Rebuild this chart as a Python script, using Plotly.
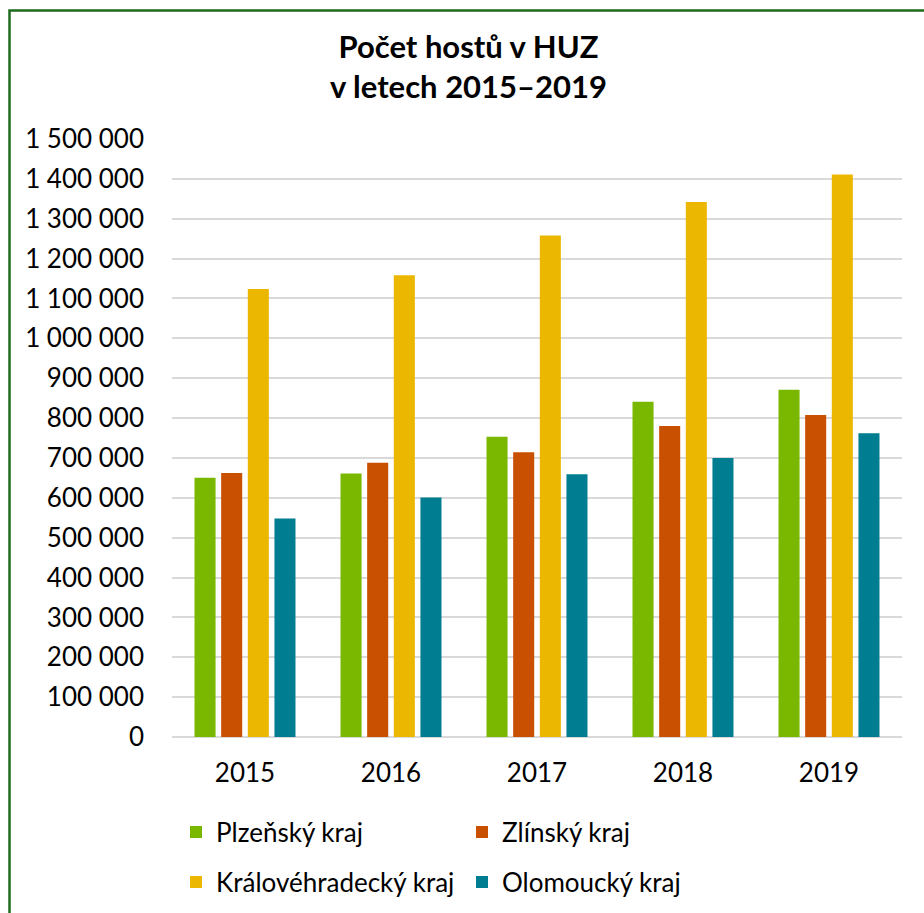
import plotly.graph_objects as go

years = ["2015", "2016", "2017", "2018", "2019"]
plzensky = [650000, 661000, 753000, 841000, 871000]
zlinsky = [662000, 688000, 714000, 780000, 808000]
kralovehradecky = [1124000, 1158000, 1258000, 1342000, 1411000]
olomoucky = [548000, 601000, 659000, 700000, 762000]

series_names = ["Plzeňský kraj", "Zlínský kraj", "Královéhradecký kraj", "Olomoucký kraj"]
series_values = [plzensky, zlinsky, kralovehradecky, olomoucky]
colors = ["#7AB800", "#C85000", "#EBB700", "#007D91"]
legend_rows = ["legend", "legend", "legend2", "legend2"]

tick_vals = list(range(0, 1500001, 100000))
tick_text = [f"{v:,}".replace(",", " ") for v in tick_vals]

FONT = "Lato"
FS = 26

fig = go.Figure()
for name, vals, col, lg in zip(series_names, series_values, colors, legend_rows):
    fig.add_trace(go.Bar(x=years, y=vals, name=name, legend=lg,
                         marker=dict(color=col, line=dict(width=0))))

W, H = 924, 913
L, R, T, B = 172, 22, 139, 176
pw, ph = W - L - R, H - T - B

leg_common = dict(orientation="h", xanchor="left", yanchor="middle",
                  entrywidth=241, entrywidthmode="pixels", itemwidth=30,
                  font=dict(family=FONT, size=FS, color="#000000"),
                  bgcolor="rgba(0,0,0,0)", traceorder="normal")

fig.update_layout(
    width=W, height=H,
    margin=dict(l=L, r=R, t=T, b=B, autoexpand=False),
    paper_bgcolor="white", plot_bgcolor="white",
    font=dict(family=FONT, size=FS, color="#000000"),
    title=dict(text="<b>Počet hostů v HUZ<br>v letech 2015–2019</b>",
               x=0.507, xanchor="center", y=0.937, yanchor="middle", yref="container",
               font=dict(family=FONT, size=31, color="#000000")),
    barmode="group", bargap=0.27, bargroupgap=0.21,
    legend=dict(x=4 / pw, y=(H - B - 832) / ph, **leg_common),
    legend2=dict(x=4 / pw, y=(H - B - 882) / ph, **leg_common),
    showlegend=True,
)
fig.update_xaxes(showgrid=False, showline=False, ticks="", ticklabelstandoff=18,
                 tickfont=dict(family=FONT, size=FS))
fig.update_yaxes(range=[0, 1500000], tickvals=tick_vals, ticktext=tick_text,
                 showgrid=True, gridcolor="#D9D9D9", gridwidth=2,
                 zeroline=True, zerolinecolor="#D9D9D9", zerolinewidth=2,
                 showline=False, ticks="", ticklabelstandoff=27,
                 tickfont=dict(family=FONT, size=FS))

fig.add_shape(type="rect", xref="paper", yref="paper",
              x0=(9.5 - L) / pw, x1=(W + 20 - L) / pw,
              y0=(-B - 20) / ph, y1=(H - B - 10.5) / ph,
              line=dict(color="#1E6B1E", width=2.5), fillcolor="rgba(0,0,0,0)", layer="below")

fig.write_html("out.html", config={"displayModeBar": False},
               post_script="document.body.style.margin='0px';")
